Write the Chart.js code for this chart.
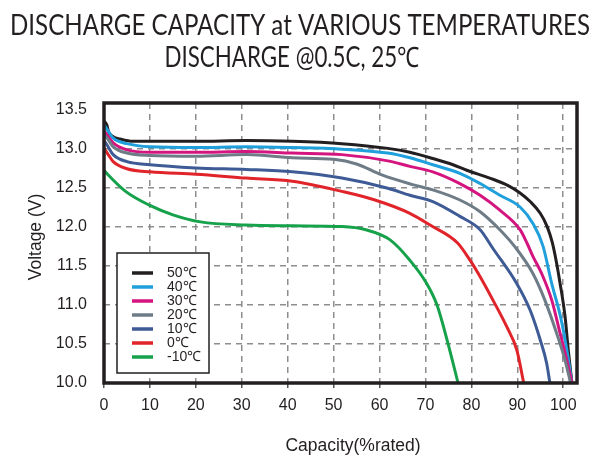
<!DOCTYPE html>
<html>
<head>
<meta charset="utf-8">
<script src="https://cdn.jsdelivr.net/npm/chart.js@4.4.1/dist/chart.umd.min.js"></script>
<style>
  html, body { margin: 0; padding: 0; background: #ffffff; }
  #wrap { width: 609px; height: 455px; position: relative; }
</style>
</head>
<body>
<div id="wrap"><canvas id="c" width="609" height="455"></canvas></div>
<script>
// ---- chart text ----
const titleLines = ['DISCHARGE CAPACITY at VARIOUS TEMPERATURES', 'DISCHARGE @0.5C, 25\u2103'];
const xTitle = 'Capacity(%rated)';
const yTitle = 'Voltage (V)';

// ---- tick values ----
const xTickValues = [0, 10, 20, 30, 40, 50, 60, 70, 80, 90, 100];
const yTickValues = [10.0, 10.5, 11.0, 11.5, 12.0, 12.5, 13.0, 13.5];

// ---- series labels & colours ----
const seriesLabels = ['50\u2103', '40\u2103', '30\u2103', '20\u2103', '10\u2103', '0\u2103', '-10\u2103'];
const seriesColors = ['#231f20', '#1fa0dc', '#d4157f', '#6e7c87', '#3e5b96', '#e1232a', '#16a14b'];

// ---- data: capacity (% rated) and voltage (V) ----
const cap50 = [0, 0.6, 1, 2, 3.5, 6.3, 10, 20, 31, 41, 51.8, 61.8, 66.6, 71.6, 76, 79, 84, 87.8, 90.6, 92.8, 95, 96.5, 97.6, 98.5, 99.3, 100.4, 101.1, 101.9];
const v50   = [13.35, 13.3, 13.21, 13.15, 13.12, 13.09, 13.09, 13.09, 13.1, 13.09, 13.06, 13.0, 12.95, 12.87, 12.79, 12.72, 12.62, 12.53, 12.43, 12.32, 12.17, 12.0, 11.8, 11.55, 11.28, 10.85, 10.42, 10.0];

const cap40 = [0, 0.7, 2, 5, 10, 20, 31, 41, 51.8, 61.8, 66.6, 71.6, 77.5, 81.9, 86.2, 90.6, 93.4, 95.6, 97.5, 99.4, 100.8, 101.9];
const v40   = [13.3, 13.24, 13.13, 13.06, 13.02, 13.01, 13.02, 13.01, 12.99, 12.94, 12.88, 12.79, 12.68, 12.55, 12.4, 12.25, 12.04, 11.75, 11.27, 10.85, 10.42, 10.0];

const cap30 = [0, 0.7, 2, 5, 10, 20, 31, 41, 51.8, 61.8, 66.6, 71.6, 77.5, 81.9, 86.2, 90.6, 92.1, 93.4, 95.3, 97.5, 99.3, 100.8, 101.9];
const v30   = [13.22, 13.17, 13.07, 12.98, 12.95, 12.95, 12.96, 12.94, 12.92, 12.84, 12.77, 12.7, 12.55, 12.4, 12.21, 11.96, 11.79, 11.62, 11.4, 11.06, 10.64, 10.29, 10.0];

const cap20 = [0, 0.7, 2, 5, 10, 20, 31, 41, 50, 55, 60.5, 67, 71.6, 77.5, 81.9, 86.2, 89.5, 93.4, 96, 98.6, 100.4, 101.6];
const v20   = [13.17, 13.13, 13.02, 12.94, 12.91, 12.9, 12.92, 12.88, 12.86, 12.8, 12.66, 12.54, 12.47, 12.34, 12.19, 11.96, 11.74, 11.4, 11.06, 10.63, 10.29, 10.0];

const cap10 = [0, 0.7, 2, 5, 10, 20, 31, 41, 51.8, 61.8, 66.6, 71.6, 77.5, 81.9, 84.7, 89.9, 92.8, 95, 96.4, 97.1];
const v10   = [13.1, 13.04, 12.92, 12.83, 12.79, 12.75, 12.73, 12.7, 12.62, 12.49, 12.4, 12.32, 12.13, 11.96, 11.72, 11.27, 10.93, 10.55, 10.25, 10.0];

const cap0  = [0, 0.7, 2, 5, 10, 20, 31, 41, 51.8, 59, 66.6, 71, 77, 79.7, 81.5, 84.7, 87.7, 89.9, 91.4];
const v0    = [13.0, 12.94, 12.83, 12.74, 12.7, 12.67, 12.62, 12.58, 12.45, 12.34, 12.17, 12.02, 11.79, 11.57, 11.4, 11.06, 10.72, 10.42, 10.0];

const capM10 = [0, 0.6, 4.7, 10, 15, 21, 31, 41, 51.8, 57, 62.3, 66.6, 70.3, 72.5, 74.8, 77.1];
const vM10   = [12.72, 12.68, 12.45, 12.27, 12.15, 12.06, 12.02, 12.01, 12.0, 11.96, 11.83, 11.57, 11.27, 11.0, 10.53, 10.0];

const seriesCaps = [cap50, cap40, cap30, cap20, cap10, cap0, capM10];
const seriesVolts = [v50, v40, v30, v20, v10, v0, vM10];

const datasets = seriesLabels.map((lab, i) => ({
  label: lab,
  data: seriesCaps[i].map((x, j) => ({ x: x, y: seriesVolts[i][j] })),
  borderColor: seriesColors[i],
  backgroundColor: seriesColors[i],
  borderWidth: 3,
  pointRadius: 0,
  cubicInterpolationMode: 'monotone',
  fill: false
})).reverse();

const TEXT = '#231f20';
const GRID = '#8d8d8d';

const decorPlugin = {
  id: 'decor',
  afterDraw(chart) {
    const ctx = chart.ctx;
    const a = chart.chartArea;
    ctx.save();
    // frame
    ctx.strokeStyle = TEXT;
    ctx.lineWidth = 3.5;
    ctx.strokeRect(a.left, a.top, a.right - a.left, a.bottom - a.top);

    // legend box
    const lx = 117, ly = 253, lw = 92, lh = 120;
    ctx.fillStyle = '#ffffff';
    ctx.fillRect(lx, ly, lw, lh);
    ctx.lineWidth = 1.5;
    ctx.strokeStyle = TEXT;
    ctx.strokeRect(lx, ly, lw, lh);
    ctx.font = '14px "Liberation Sans", Arial, sans-serif';
    ctx.textBaseline = 'middle';
    ctx.textAlign = 'left';
    seriesLabels.forEach((lab, i) => {
      const yy = 273 + i * 14;
      ctx.strokeStyle = seriesColors[i];
      ctx.lineWidth = 3.5;
      ctx.beginPath();
      ctx.moveTo(132, yy);
      ctx.lineTo(153, yy);
      ctx.stroke();
      ctx.fillStyle = TEXT;
      ctx.fillText(lab, 167, yy + 0.5);
    });

    // titles
    ctx.fillStyle = TEXT;
    ctx.textAlign = 'center';
    ctx.textBaseline = 'alphabetic';
    const fitText = (txt, cx, baseY, size, targetW) => {
      ctx.font = size + 'px Lato, "Open Sans", sans-serif';
      const w = ctx.measureText(txt).width;
      const sx = targetW / w;
      ctx.save();
      ctx.translate(cx, baseY);
      ctx.scale(sx, 1);
      ctx.fillText(txt, 0, 0);
      ctx.restore();
    };
    fitText(titleLines[0], 300, 35, 28, 580);
    fitText(titleLines[1], 292, 67, 28, 255);

    // axis titles
    ctx.font = '17.5px "Liberation Sans", Arial, sans-serif';
    ctx.textBaseline = 'middle';
    ctx.fillText(xTitle, 353, 446);
    ctx.save();
    ctx.translate(36, 237);
    ctx.rotate(-Math.PI / 2);
    ctx.fillText(yTitle, 0, 0);
    ctx.restore();
    ctx.restore();
  }
};

new Chart(document.getElementById('c'), {
  type: 'line',
  data: { datasets: datasets },
  options: {
    responsive: false,
    animation: false,
    events: [],
    layout: { padding: { top: 103, right: 32, left: 0, bottom: 0 } },
    plugins: { legend: { display: false }, title: { display: false }, tooltip: { enabled: false } },
    scales: {
      x: {
        type: 'linear',
        min: 0,
        max: 103,
        afterBuildTicks(scale) { scale.ticks = xTickValues.map(v => ({ value: v })); },
        afterFit(scale) { scale.height = 72; },
        ticks: {
          color: TEXT,
          font: { family: '"Liberation Sans", Arial, sans-serif', size: 16 },
          padding: 8,
          maxRotation: 0,
          autoSkip: false,
          callback: (v) => String(v)
        },
        grid: {
          color: (c) => (c.tick && (c.tick.value === 0) ? 'rgba(0,0,0,0)' : GRID),
          lineWidth: 1.5,
          drawTicks: true,
          tickLength: 5,
          tickColor: '#555555',
          tickBorderDash: [100, 0]
        },
        border: { display: false, dash: [6, 5] }
      },
      y: {
        type: 'linear',
        min: 10,
        max: 13.58,
        afterBuildTicks(scale) { scale.ticks = yTickValues.map(v => ({ value: v })); },
        afterFit(scale) { scale.width = 104; },
        ticks: {
          color: TEXT,
          font: { family: '"Liberation Sans", Arial, sans-serif', size: 16 },
          padding: 12,
          autoSkip: false,
          callback: (v) => Number(v).toFixed(1)
        },
        grid: {
          color: (c) => (c.tick && (c.tick.value === 13.5 || c.tick.value === 10) ? 'rgba(0,0,0,0)' : GRID),
          lineWidth: 1.5,
          drawTicks: true,
          tickLength: 5,
          tickColor: 'rgba(0,0,0,0)',
          tickBorderDash: [100, 0]
        },
        border: { display: false, dash: [6, 5] }
      }
    }
  },
  plugins: [decorPlugin]
});
</script>
</body>
</html>
